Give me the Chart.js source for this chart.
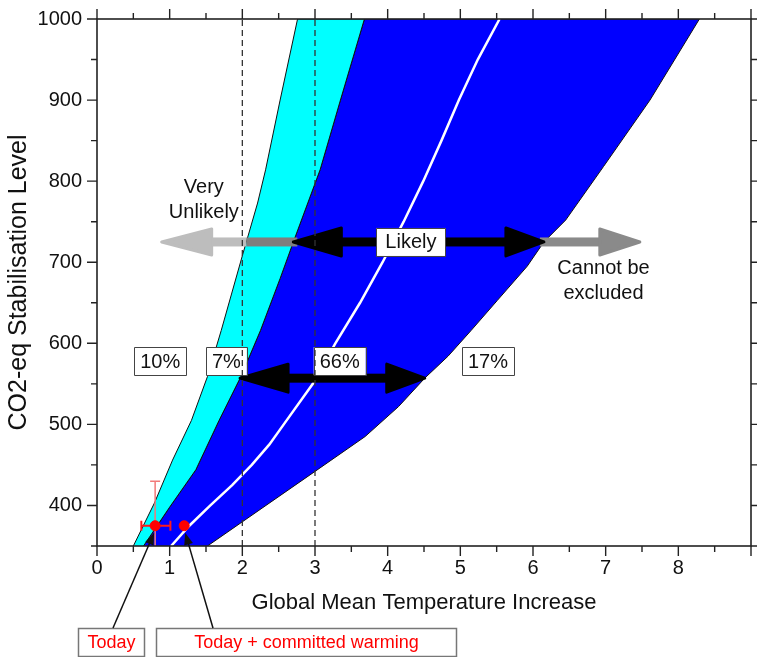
<!doctype html>
<html lang="en">
  <head>
    <meta charset="utf-8">
    <title>CO2-eq Stabilisation Level vs Global Mean Temperature Increase</title>
    <script src="https://cdn.jsdelivr.net/npm/chart.js"></script>
    <style>
      html, body { margin: 0; padding: 0; background: #fff; }
    </style>
  </head>
  <body>
    <canvas id="stabChart" width="757" height="657"></canvas>
    <script>
      // boundaries of the warming ranges: CO2-eq level (ppm) -> temperature (deg C)
      const lowLevels  = [350, 403, 456, 505, 559, 616, 708, 773, 814, 900, 1000];
      const lowTemps   = [0.50, 0.79, 1.04, 1.30, 1.52, 1.71, 2.00, 2.21, 2.32, 2.52, 2.76];
      const midLevels  = [350, 398, 444, 505, 559, 616, 680, 727, 814, 900, 1000];
      const midTemps   = [0.64, 1.00, 1.36, 1.68, 1.98, 2.25, 2.52, 2.71, 3.07, 3.35, 3.68];
      const highLevels = [350, 442, 485, 522, 557, 584, 616, 653, 695, 725, 752, 818, 900, 1000];
      const highTemps  = [1.52, 3.00, 3.69, 4.15, 4.51, 4.83, 5.15, 5.51, 5.92, 6.15, 6.45, 6.97, 7.61, 8.29];
      // best estimate (white line)
      const bestLevels = [350, 375, 400, 425, 450, 475, 500, 550, 600, 650, 700, 750, 800, 850, 900, 950, 1000];
      const bestTemps  = [1.02, 1.27, 1.56, 1.86, 2.13, 2.37, 2.57, 2.97, 3.28, 3.62, 3.93, 4.22, 4.49, 4.74, 4.98, 5.24, 5.54];

      const refTemps = [2, 3];
      const xTickValues = [0, 1, 2, 3, 4, 5, 6, 7, 8];
      const yTickValues = [400, 500, 600, 700, 800, 900, 1000];

      // today and today + committed warming
      const todayLevel = 375;
      const todayTemp = 0.8;
      const todayTempRange = [0.61, 1.01];
      const todayLevelTop = 430;
      const committedTemp = 1.2;

      // likelihood arrows
      const rangeLevels = [725, 557];
      const veryUnlikelyTip = 0.89;
      const cannotExcludeTip = 7.47;
      const shareLabels = ['10%', '7%', '66%', '17%'];
      const shareTemps = [0.87, 1.78, 3.34, 5.38];
      const shareLevel = 578;
      const likelyLabelTemp = 4.32;

      const FONT = "'Liberation Sans', Arial, sans-serif";

      function tempAt(levels, temps, level) {
        for (let i = 1; i < levels.length; i++) {
          if (level <= levels[i]) {
            const f = (level - levels[i - 1]) / (levels[i] - levels[i - 1]);
            return temps[i - 1] + f * (temps[i] - temps[i - 1]);
          }
        }
        return temps[temps.length - 1];
      }

      function toPoints(temps, levels) {
        return temps.map((t, i) => ({x: t, y: levels[i]}));
      }

      function band(leftT, leftL, rightT, rightL) {
        return toPoints(leftT, leftL).concat(toPoints(rightT, rightL).reverse());
      }

      function bar(ctx, x1, x2, y, w, color) {
        ctx.fillStyle = color;
        ctx.fillRect(Math.min(x1, x2), y - w / 2, Math.abs(x2 - x1), w);
      }

      function head(ctx, tipX, len, y, half, color) {
        ctx.fillStyle = color;
        ctx.strokeStyle = color;
        ctx.lineWidth = 3;
        ctx.lineJoin = 'round';
        ctx.beginPath();
        ctx.moveTo(tipX, y);
        ctx.lineTo(tipX + len, y - half);
        ctx.lineTo(tipX + len, y + half);
        ctx.closePath();
        ctx.fill();
        ctx.stroke();
      }

      function labelBox(ctx, text, cx, cy, padX, h) {
        ctx.font = '20px ' + FONT;
        const w = ctx.measureText(text).width + 2 * padX;
        ctx.fillStyle = '#fff';
        ctx.fillRect(cx - w / 2, cy - h / 2, w, h);
        ctx.strokeStyle = '#444';
        ctx.lineWidth = 1;
        ctx.strokeRect(Math.round(cx - w / 2) + 0.5, Math.round(cy - h / 2) + 0.5, Math.round(w), h);
        ctx.fillStyle = '#111';
        ctx.textAlign = 'center';
        ctx.textBaseline = 'middle';
        ctx.fillText(text, cx, cy + 1);
      }

      function drawRanges(chart) {
        const ctx = chart.ctx;
        const X = v => chart.scales.x.getPixelForValue(v);
        const Y = v => chart.scales.y.getPixelForValue(v);
        ctx.save();

        // upper row: very unlikely / likely / cannot be excluded
        const yu = Y(rangeLevels[0]);
        const edge = tempAt(lowLevels, lowTemps, rangeLevels[0]);
        const la = tempAt(midLevels, midTemps, rangeLevels[0]);
        const lb = tempAt(highLevels, highTemps, rangeLevels[0]);
        head(ctx, X(veryUnlikelyTip), 50, yu, 13, '#bdbdbd');
        bar(ctx, X(veryUnlikelyTip) + 50, X(edge), yu, 9, '#bdbdbd');
        bar(ctx, X(edge), X(la) + 4, yu, 9, '#7f7f7f');
        bar(ctx, X(lb) - 4, X(cannotExcludeTip) - 40, yu, 9, '#8a8a8a');
        head(ctx, X(cannotExcludeTip), -40, yu, 13, '#8a8a8a');
        bar(ctx, X(la) + 30, X(lb) - 30, yu, 9, '#000');
        head(ctx, X(la), 48, yu, 14, '#000');
        head(ctx, X(lb), -38, yu, 14, '#000');
        labelBox(ctx, 'Likely', X(likelyLabelTemp), yu, 9, 28);

        // lower row: 66% range
        const yl = Y(rangeLevels[1]);
        const a2 = tempAt(midLevels, midTemps, rangeLevels[1]);
        const b2 = tempAt(highLevels, highTemps, rangeLevels[1]);
        bar(ctx, X(a2) + 30, X(b2) - 30, yl, 9, '#000');
        head(ctx, X(a2), 48, yl, 14, '#000');
        head(ctx, X(b2), -38, yl, 14, '#000');

        shareLabels.forEach((s, i) => {
          labelBox(ctx, s, X(shareTemps[i]), Y(shareLevel), 6, 28);
        });
        ctx.restore();
      }

      function drawErrorBars(chart) {
        const ctx = chart.ctx;
        const X = v => chart.scales.x.getPixelForValue(v);
        const Y = v => chart.scales.y.getPixelForValue(v);
        const y0 = Y(todayLevel);
        const x0 = X(todayTemp);
        ctx.save();
        ctx.strokeStyle = '#f27a7a';
        ctx.lineWidth = 1.5;
        ctx.beginPath();
        ctx.moveTo(x0, chart.chartArea.bottom);
        ctx.lineTo(x0, Y(todayLevelTop));
        ctx.moveTo(x0 - 5, Y(todayLevelTop));
        ctx.lineTo(x0 + 5, Y(todayLevelTop));
        ctx.stroke();
        ctx.strokeStyle = '#ff1a1a';
        ctx.lineWidth = 2;
        const xl = X(todayTempRange[0]);
        const xr = X(todayTempRange[1]);
        ctx.beginPath();
        ctx.moveTo(xl, y0);
        ctx.lineTo(xr, y0);
        ctx.moveTo(xl, y0 - 5);
        ctx.lineTo(xl, y0 + 5);
        ctx.moveTo(xr, y0 - 5);
        ctx.lineTo(xr, y0 + 5);
        ctx.stroke();
        ctx.restore();
      }

      function drawFrame(chart) {
        const ctx = chart.ctx;
        const a = chart.chartArea;
        const X = v => chart.scales.x.getPixelForValue(v);
        const Y = v => chart.scales.y.getPixelForValue(v);
        ctx.save();
        ctx.strokeStyle = '#222';
        ctx.lineWidth = 1.6;
        ctx.strokeRect(a.left, a.top, a.right - a.left, a.bottom - a.top);
        ctx.lineWidth = 1.4;
        ctx.beginPath();
        xTickValues.concat([9]).forEach(v => {
          const len = [10, 6];
          [v, v + 0.5].forEach((t, k) => {
            if (t > 9) return;
            const x = X(t);
            ctx.moveTo(x, a.bottom); ctx.lineTo(x, a.bottom + len[k]);
            ctx.moveTo(x, a.top); ctx.lineTo(x, a.top - len[k]);
          });
        });
        yTickValues.forEach(v => {
          const len = [10, 6];
          [v, v - 50].forEach((l, k) => {
            const y = Y(l);
            ctx.moveTo(a.left, y); ctx.lineTo(a.left - len[k], y);
            ctx.moveTo(a.right, y); ctx.lineTo(a.right + len[k], y);
          });
        });
        ctx.stroke();
        ctx.restore();
      }

      function arrowTo(ctx, x1, y1, x2, y2) {
        const ang = Math.atan2(y2 - y1, x2 - x1);
        ctx.beginPath();
        ctx.moveTo(x1, y1);
        ctx.lineTo(x2 - 8 * Math.cos(ang), y2 - 8 * Math.sin(ang));
        ctx.stroke();
        ctx.beginPath();
        ctx.moveTo(x2, y2);
        ctx.lineTo(x2 - 12 * Math.cos(ang) + 4.5 * Math.sin(ang), y2 - 12 * Math.sin(ang) - 4.5 * Math.cos(ang));
        ctx.lineTo(x2 - 12 * Math.cos(ang) - 4.5 * Math.sin(ang), y2 - 12 * Math.sin(ang) + 4.5 * Math.cos(ang));
        ctx.closePath();
        ctx.fill();
      }

      function drawNotes(chart) {
        const ctx = chart.ctx;
        const X = v => chart.scales.x.getPixelForValue(v);
        const Y = v => chart.scales.y.getPixelForValue(v);
        ctx.save();
        ctx.font = '20px ' + FONT;
        ctx.fillStyle = '#111';
        ctx.textAlign = 'center';
        ctx.textBaseline = 'middle';
        ctx.fillText('Very', X(1.47), Y(778) - 12);
        ctx.fillText('Unlikely', X(1.47), Y(778) + 13);
        ctx.fillText('Cannot be', X(6.97), Y(677) - 12);
        ctx.fillText('excluded', X(6.97), Y(677) + 13);

        // callouts under the axis
        ctx.strokeStyle = '#777';
        ctx.lineWidth = 1.5;
        ctx.strokeRect(78.5, 628.5, 66, 28);
        ctx.strokeRect(156.5, 628.5, 300, 28);
        ctx.font = '18px ' + FONT;
        ctx.fillStyle = '#ff0000';
        ctx.fillText('Today', 111.5, 643);
        ctx.fillText('Today + committed warming', 306.5, 643);

        ctx.strokeStyle = '#111';
        ctx.fillStyle = '#111';
        ctx.lineWidth = 1.5;
        const y0 = Y(todayLevel);
        arrowTo(ctx, 113, 628, X(todayTemp) - 1, y0 + 7);
        arrowTo(ctx, 213, 628, X(committedTemp) + 1, y0 + 7);
        ctx.restore();
      }

      const decorPlugin = {
        id: 'decor',
        afterDatasetDraw(chart, args) {
          if (args.index === 3) drawRanges(chart);
          if (args.index === 1) drawErrorBars(chart);
        },
        afterDraw(chart) {
          drawFrame(chart);
          drawNotes(chart);
        }
      };

      const ctx = document.getElementById('stabChart').getContext('2d');
      new Chart(ctx, {
        type: 'scatter',
        data: {
          datasets: [
            {
              label: 'Today',
              data: [{x: todayTemp, y: todayLevel}, {x: committedTemp, y: todayLevel}],
              pointRadius: 5,
              backgroundColor: '#ff0000',
              borderColor: '#ff0000'
            },
            {
              label: '3 deg',
              data: [{x: refTemps[1], y: 350}, {x: refTemps[1], y: 1000}],
              showLine: true,
              borderColor: '#333',
              borderWidth: 1.3,
              borderDash: [6, 4],
              pointRadius: 0
            },
            {
              label: '2 deg',
              data: [{x: refTemps[0], y: 350}, {x: refTemps[0], y: 1000}],
              showLine: true,
              borderColor: '#333',
              borderWidth: 1.3,
              borderDash: [6, 4],
              pointRadius: 0
            },
            {
              label: 'Best estimate',
              data: toPoints(bestTemps, bestLevels),
              showLine: true,
              borderColor: '#ffffff',
              borderWidth: 2.5,
              pointRadius: 0
            },
            {
              label: 'Very unlikely band',
              data: band(lowTemps, lowLevels, midTemps, midLevels),
              showLine: true,
              fill: 'shape',
              backgroundColor: '#00ffff',
              borderColor: '#111',
              borderWidth: 1,
              pointRadius: 0
            },
            {
              label: 'Likely band',
              data: band(midTemps, midLevels, highTemps, highLevels),
              showLine: true,
              fill: 'shape',
              backgroundColor: '#0000ff',
              borderColor: '#111',
              borderWidth: 1,
              pointRadius: 0
            }
          ]
        },
        options: {
          responsive: false,
          animation: false,
          layout: { padding: { top: 19, right: 5, left: 0, bottom: 0 } },
          plugins: {
            legend: { display: false },
            tooltip: { enabled: false }
          },
          scales: {
            x: {
              type: 'linear',
              min: 0,
              max: 9,
              afterBuildTicks: s => { s.ticks = xTickValues.map(v => ({value: v})); },
              afterFit: s => { s.height = 111; s.paddingLeft = 0; s.paddingRight = 0; },
              grid: { display: false, drawTicks: false },
              border: { display: false },
              ticks: { padding: 10, color: '#111', font: { family: FONT, size: 20 }, callback: v => String(v) },
              title: {
                display: true,
                text: 'Global Mean Temperature Increase',
                color: '#111',
                font: { family: FONT, size: 22 },
                padding: { top: 0, bottom: 41 }
              }
            },
            y: {
              type: 'linear',
              min: 350,
              max: 1000,
              afterBuildTicks: s => { s.ticks = yTickValues.map(v => ({value: v})); },
              afterFit: s => { s.width = 97; s.paddingTop = 0; s.paddingBottom = 0; },
              grid: { display: false, drawTicks: false },
              border: { display: false },
              ticks: { padding: 15, color: '#111', font: { family: FONT, size: 20 }, callback: v => String(v) },
              title: {
                display: true,
                text: 'CO2-eq Stabilisation Level',
                color: '#111',
                font: { family: FONT, size: 25 },
                padding: { top: 4, bottom: 0 }
              }
            }
          }
        },
        plugins: [decorPlugin]
      });
    </script>
  </body>
</html>
